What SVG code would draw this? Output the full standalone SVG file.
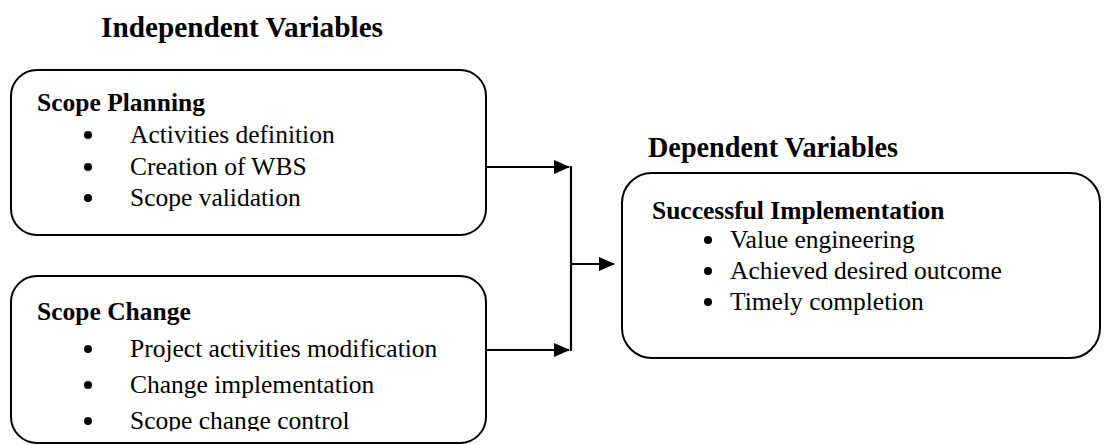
<svg xmlns="http://www.w3.org/2000/svg" width="1104" height="445" viewBox="0 0 1104 445">
<style>
.box{fill:#fff;stroke:#000;stroke-width:2}
.t{font-family:"Liberation Serif","Times New Roman",serif;font-size:25.5px;fill:#000}
.h{font-weight:bold}
.title{font-family:"Liberation Serif","Times New Roman",serif;font-size:29px;font-weight:bold;fill:#000}
.c{stroke:#000;stroke-width:2.2;fill:none}
</style>
<defs>
<marker id="ah" markerWidth="16" markerHeight="14" refX="15" refY="7" orient="auto" markerUnits="userSpaceOnUse">
<path d="M0,0 L16,7 L0,14 Z" fill="#000"/>
</marker>
<clipPath id="clip2"><rect x="0" y="276" width="500" height="155"/></clipPath>
</defs>
<text class="title" x="101" y="37" textLength="282" lengthAdjust="spacingAndGlyphs">Independent Variables</text>
<text class="title" x="648" y="157" textLength="250" lengthAdjust="spacingAndGlyphs">Dependent Variables</text>
<g id="scope-planning">
<rect class="box" x="11" y="70" width="475" height="165" rx="26"/>
<text class="t h" x="37" y="111">Scope Planning</text>
<circle cx="88" cy="135" r="4"/><text class="t" x="130" y="143">Activities definition</text>
<circle cx="88" cy="167" r="4"/><text class="t" x="130" y="175">Creation of WBS</text>
<circle cx="88" cy="198" r="4"/><text class="t" x="130" y="206">Scope validation</text>
</g>
<g id="scope-change">
<rect class="box" x="11" y="276" width="475" height="167" rx="26"/>
<g clip-path="url(#clip2)">
<text class="t h" x="37" y="320">Scope Change</text>
<circle cx="88" cy="349" r="4"/><text class="t" x="130" y="357">Project activities modification</text>
<circle cx="88" cy="385" r="4"/><text class="t" x="130" y="393">Change implementation</text>
<circle cx="88" cy="421" r="4"/><text class="t" x="130" y="429">Scope change control</text>
</g>
</g>
<g id="successful-implementation">
<rect class="box" x="622" y="173" width="478" height="185" rx="30"/>
<text class="t h" x="652" y="219">Successful Implementation</text>
<circle cx="708" cy="240" r="4"/><text class="t" x="730" y="248">Value engineering</text>
<circle cx="708" cy="271" r="4"/><text class="t" x="730" y="279">Achieved desired outcome</text>
<circle cx="708" cy="302" r="4"/><text class="t" x="730" y="310">Timely completion</text>
</g>
<g id="connectors">
<line class="c" x1="486" y1="167" x2="569" y2="167" marker-end="url(#ah)"/>
<line class="c" x1="486" y1="350" x2="569" y2="350" marker-end="url(#ah)"/>
<line class="c" x1="571" y1="166" x2="571" y2="351"/>
<line class="c" x1="572" y1="264" x2="614" y2="264" marker-end="url(#ah)"/>
</g>
</svg>
